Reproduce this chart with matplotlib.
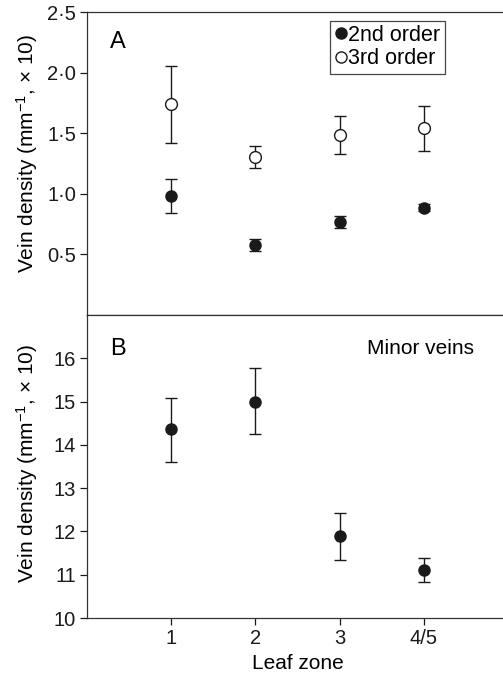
import matplotlib
matplotlib.use("Agg")
import matplotlib.pyplot as plt
from matplotlib.lines import Line2D
import numpy as np

plt.rcParams['font.family'] = ['Liberation Sans', 'DejaVu Sans']
plt.rcParams['mathtext.fontset'] = 'custom'
plt.rcParams['mathtext.rm'] = 'Liberation Sans'
plt.rcParams['mathtext.it'] = 'Liberation Sans:italic'
plt.rcParams['mathtext.bf'] = 'Liberation Sans:bold'

zones = ["1", "2", "3", "4/5"]
xpos = [1, 2, 3, 4]

# Panel A
second_mean = [0.98, 0.58, 0.77, 0.885]
second_upper = [1.12, 0.63, 0.82, 0.915]
second_lower = [0.84, 0.53, 0.72, 0.855]
third_mean = [1.74, 1.305, 1.485, 1.545]
third_upper = [2.055, 1.395, 1.64, 1.727]
third_lower = [1.42, 1.215, 1.33, 1.356]
a_ticks = [0.5, 1.0, 1.5, 2.0, 2.5]
a_ticklabels = ["0·5", "1·0", "1·5", "2·0", "2·5"]

# Panel B
minor_mean = [14.36, 15.0, 11.89, 11.11]
minor_upper = [15.09, 15.77, 12.43, 11.38]
minor_lower = [13.6, 14.24, 11.35, 10.83]
b_ticks = [10, 11, 12, 13, 14, 15, 16]

W, H = 503, 676
fig = plt.figure(figsize=(W/100, H/100), dpi=100)
left = 87/W
width = (508-87)/W
axA = fig.add_axes([left, (H-315)/H, width, (315-12)/H])
axB = fig.add_axes([left, (H-618)/H, width, (618-315)/H])

def err(mean, lo, hi):
    m = np.array(mean); return [m-np.array(lo), np.array(hi)-m]

K = '#1a1a1a'
ekw = dict(ecolor=K, elinewidth=1.0, capsize=4, capthick=1.0, linestyle='none')
axA.errorbar(xpos, second_mean, yerr=err(second_mean, second_lower, second_upper),
             marker='o', ms=8, mfc=K, mec=K, **ekw)
axA.errorbar(xpos, third_mean, yerr=err(third_mean, third_lower, third_upper),
             marker='o', ms=8.5, mfc='white', mec=K, mew=1.0, **ekw)
axB.errorbar(xpos, minor_mean, yerr=err(minor_mean, minor_lower, minor_upper),
             marker='o', ms=8, mfc=K, mec=K, **ekw)

for ax in (axA, axB):
    ax.set_xlim(0, 5)
    ax.spines['right'].set_visible(False)
    for s in ax.spines.values():
        s.set_linewidth(0.9)
        s.set_color('#333333')
    ax.tick_params(direction='out', length=5, width=0.9, labelsize=14.5, colors=K, pad=3)

axA.set_ylim(0, 2.5)
axA.set_yticks(a_ticks)
axA.set_yticklabels(a_ticklabels)
axA.set_xticks([])
axB.set_ylim(10, 17)
axB.set_yticks(b_ticks)
axB.set_xticks(xpos)
axB.set_xticklabels(zones)
axB.set_xlabel("Leaf zone", fontsize=15, labelpad=4)

ylab = "Vein density (mm$^{-1}$, × 10)"
axA.set_ylabel(ylab, fontsize=15)
axB.set_ylabel(ylab, fontsize=15)
axA.yaxis.set_label_coords((40-87)/421, (315-153.5)/303)
axB.yaxis.set_label_coords((40-87)/421, (618-463.5)/303)

axA.text((110-87)/84.2, 2.5 - (42-12)/121.2, "A", fontsize=17, va='center', ha='left')
axB.text((110-87)/84.2, 17 - (349-315)/43.3, "B", fontsize=17, va='center', ha='left')
axB.text(3.96, 17 - (349-315)/43.3, "Minor veins", fontsize=15, va='center', ha='center')

handles = [Line2D([], [], ls='none', marker='o', ms=8, mfc=K, mec=K),
           Line2D([], [], ls='none', marker='o', ms=8, mfc='white', mec=K, mew=1.0)]
leg = axA.legend(handles, ['2nd order', '3rd order'], loc='upper left',
                 bbox_to_anchor=((330-87)/421, (315-20.5)/303),
                 fontsize=15.5, frameon=True, fancybox=False, handletextpad=0.05,
                 handlelength=0.6, borderpad=0.2, labelspacing=0.12, borderaxespad=0)
leg.get_frame().set_edgecolor(K)
leg.get_frame().set_linewidth(0.9)

fig.savefig("out.png", dpi=100)
